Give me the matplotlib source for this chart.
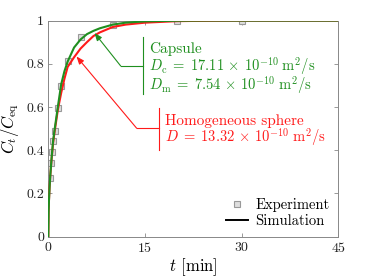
import matplotlib
matplotlib.use("Agg")
import matplotlib.pyplot as plt
from matplotlib.lines import Line2D

# experimental points
t_exp = [0.25, 0.42, 0.52, 0.78, 1.04, 1.56, 2.0, 3.0, 5.0, 10.0, 20.0, 30.0]
c_exp = [0.273, 0.343, 0.394, 0.443, 0.49, 0.596, 0.697, 0.813, 0.925, 0.98, 1.0, 1.0]

# simulation curves
t_sim = [0, 0.05, 0.1, 0.2, 0.3, 0.5, 0.75, 1, 1.5, 2, 2.5, 3, 4, 5, 6, 7, 8,
         10, 12, 15, 20, 25, 30, 45]
c_capsule = [0, 0.12, 0.165, 0.23, 0.28, 0.36, 0.445, 0.50, 0.605, 0.705, 0.765,
             0.81, 0.875, 0.912, 0.937, 0.952, 0.964, 0.981, 0.99, 0.996, 0.999,
             1.0, 1.0, 1.0]
c_sphere = [0, 0.12, 0.165, 0.23, 0.28, 0.355, 0.435, 0.49, 0.59, 0.665, 0.73,
            0.785, 0.83, 0.87, 0.90, 0.928, 0.945, 0.97, 0.981, 0.99, 0.997,
            0.999, 1.0, 1.0]

x_ticks = [0, 15, 30, 45]
y_ticks = [0, 0.2, 0.4, 0.6, 0.8, 1]
y_ticklabels = ["0", "0.2", "0.4", "0.6", "0.8", "1"]

GREEN = "#1f8f1f"
RED = "#ff1a1a"
W, H = 374, 280

plt.rcParams["font.family"] = "serif"
plt.rcParams["font.serif"] = ["cmr10"]
plt.rcParams["mathtext.fontset"] = "cm"
plt.rcParams["axes.formatter.use_mathtext"] = True


def fx(px):
    return px / W


def fy(py):
    return 1 - py / H


fig = plt.figure(figsize=(W / 100, H / 100), dpi=100)
ax = fig.add_axes([fx(48.3), fy(236.7), fx(338.3) - fx(48.3), fy(20.5) - fy(236.7)])

mk = dict(ls="none", marker="s", ms=4.3, mfc="#dedede", mec="#999999", mew=0.8)
ax.plot(t_exp, c_exp, zorder=2, **mk)
ax.plot(t_sim, c_sphere, color=RED, lw=1.5, zorder=3)
ax.plot(t_sim, c_capsule, color=GREEN, lw=1.5, zorder=4)

ax.set_xlim(0, 45)
ax.set_ylim(0, 1)
ax.set_xticks(x_ticks)
ax.set_yticks(y_ticks)
ax.set_yticklabels(y_ticklabels)
ax.tick_params(direction="in", top=True, right=True, length=3, width=0.6,
               color="#888888", labelsize=10, labelcolor="#222222", pad=3)
for s in ax.spines.values():
    s.set_color("#888888")
    s.set_linewidth(0.7)

ax.set_xlabel(r"$t$ [min]", fontsize=12, labelpad=1)
ax.set_ylabel(r"$C_t/C_{\mathrm{eq}}$", fontsize=12, labelpad=4)

handles = [Line2D([], [], **mk), Line2D([], [], color="black", lw=1.4)]
ax.legend(handles, ["Experiment", "Simulation"], loc="lower right", frameon=False,
          fontsize=10.5, handlelength=1.5, handletextpad=0.5, labelspacing=0.15,
          borderaxespad=0.2, bbox_to_anchor=(1.0, 0.0))

# capsule annotation
fig.add_artist(Line2D([fx(143.3), fx(143.3)], [fy(37), fy(94)], color=GREEN, lw=0.8))
fig.add_artist(Line2D([fx(143.3), fx(120.7)], [fy(66), fy(66)], color=GREEN, lw=0.8))
ax.annotate("", xy=(fx(94.5), fy(33)), xycoords="figure fraction",
            xytext=(fx(120.7), fy(66)), textcoords="figure fraction",
            arrowprops=dict(arrowstyle="-|>,head_length=0.45,head_width=0.18",
                            color=GREEN, lw=0.8, shrinkA=0, shrinkB=0))
fig.text(fx(149), fy(49.3), "Capsule", color=GREEN, fontsize=11, va="center")
fig.text(fx(149), fy(66.5),
         r"$D_\mathrm{c}\;=\;17.11\,\times\,10^{-10}\;\mathrm{m^2/s}$",
         color=GREEN, fontsize=10.5, va="center")
fig.text(fx(149), fy(86),
         r"$D_\mathrm{m}\;=\;7.54\,\times\,10^{-10}\;\mathrm{m^2/s}$",
         color=GREEN, fontsize=10.5, va="center")

# sphere annotation
fig.add_artist(Line2D([fx(159.3), fx(159.3)], [fy(108.3), fy(150)], color=RED, lw=0.8))
fig.add_artist(Line2D([fx(159.3), fx(136.7)], [fy(128.3), fy(128.3)], color=RED, lw=0.8))
ax.annotate("", xy=(fx(76.5), fy(56.5)), xycoords="figure fraction",
            xytext=(fx(136.7), fy(128.3)), textcoords="figure fraction",
            arrowprops=dict(arrowstyle="-|>,head_length=0.45,head_width=0.18",
                            color=RED, lw=0.8, shrinkA=0, shrinkB=0))
fig.text(fx(165), fy(120.7), "Homogeneous sphere", color=RED, fontsize=11, va="center")
fig.text(fx(165), fy(138.3),
         r"$D\;=\;13.32\,\times\,10^{-10}\;\mathrm{m^2/s}$",
         color=RED, fontsize=10.5, va="center")

fig.savefig("out.png", dpi=100)
